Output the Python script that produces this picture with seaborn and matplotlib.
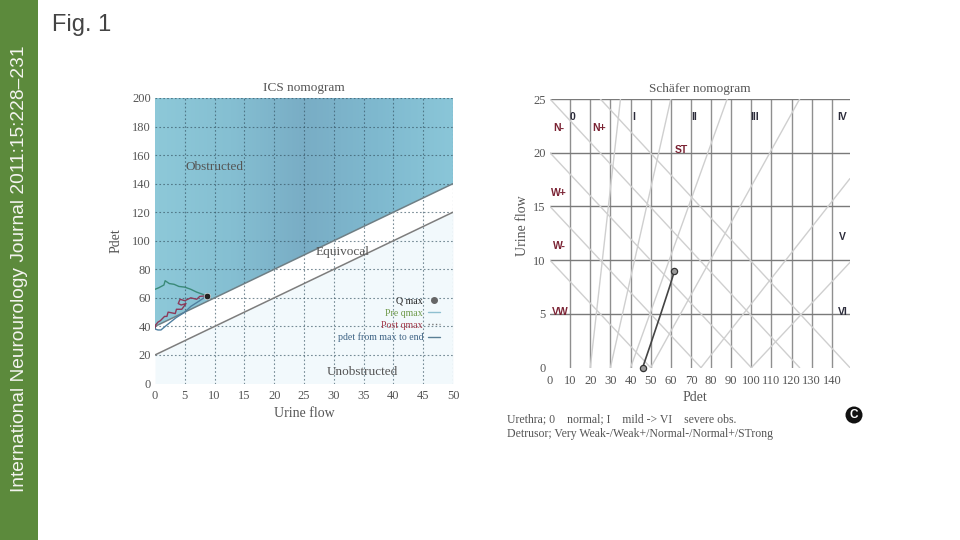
import matplotlib.pyplot as plt
import numpy as np
import seaborn as sns
from matplotlib.colors import LinearSegmentedColormap
from matplotlib.lines import Line2D
from matplotlib.patches import Circle, Polygon, Rectangle

# ICS nomogram
ics_flow_ticks = list(range(0, 55, 5))
ics_pdet_ticks = list(range(0, 220, 20))
boundary_flow = [0, 50]
upper_boundary = [40, 140]
lower_boundary = [20, 120]

pre_flow = [0, 0.6, 1.5, 1.7, 2.4, 3.2, 4.0, 5.0, 6.0, 7.0, 8.0, 8.7]
pre_pdet = [66, 67, 69, 72, 70, 69.5, 68, 67.5, 66, 64, 62.5, 61.5]
post_flow = [8.7, 7.5, 7.0, 6.0, 5.0, 4.2, 3.9, 4.4, 5.2, 4.5, 3.6, 3.4, 2.2, 2.0, 1.6, 0.9, 0.5, 0.1, 0.0]
post_pdet = [61.5, 61, 59, 60, 58, 59, 56, 55, 56, 52, 52, 49, 50, 47, 47, 44, 43, 41, 39]
end_flow = [8.7, 7.5, 6.0, 5.0, 3.5, 2.0, 1.0, 0.5, 0.1, 0.0]
end_pdet = [61.5, 58, 54, 50, 46, 41, 37.5, 37.5, 38, 40]
qmax_flow = [8.7]
qmax_pdet = [61.5]

# Schafer nomogram
sch_pdet_ticks = list(range(0, 150, 10))
sch_flow_ticks = [0, 5, 10, 15, 20, 25]
desc_lines = [([25, 149], [25, 0]), ([0, 124], [25, 0]), ([0, 100], [20, 0]),
              ([0, 75], [15, 0]), ([0, 50], [10, 0])]
asc_lines = [([20, 35], [0, 25]), ([30, 60], [0, 25]), ([40, 88], [0, 25]),
             ([50, 124], [0, 25]), ([75, 149], [0, 17.6]), ([100, 149], [0, 9.8])]
patient_pdet = [46, 50, 55, 59.7, 61.8]
patient_flow = [0, 2.2, 5, 7.7, 9]

urethra_labels = [("0", 11, 23.3), ("I", 41.6, 23.3), ("II", 71.5, 23.3), ("III", 101.5, 23.3),
                  ("IV", 145, 23.3), ("V", 145, 12.2), ("VI", 145.5, 5.2)]
detrusor_labels = [("N-", 4.5, 22.3), ("N+", 24.5, 22.3), ("ST", 65, 20.3), ("W+", 4.5, 16.3),
                   ("W-", 4.5, 11.3), ("VW", 5, 5.2)]

sns.set_style("white")
plt.rcParams['font.family'] = ['Liberation Serif', 'DejaVu Serif']
TEXT = '#555555'
W, H = 960, 540


def axes_px(fig, left, top, right, bottom):
    return fig.add_axes([left / W, 1 - bottom / H, (right - left) / W, (bottom - top) / H])


fig = plt.figure(figsize=(9.6, 5.4), dpi=100, facecolor='white')

# sidebar and figure caption
fig.add_artist(Rectangle((0, 0), 38 / W, 1, transform=fig.transFigure, color='#5c8a3c', lw=0))
fig.text(20 / W, 1 - 269 / H, 'International Neurourology Journal 2011:15:228\u2013231', rotation=90,
         color='#f4f4f0', ha='center', va='center', fontsize=13.8, family='Liberation Sans')
fig.text(52 / W, 1 - 25 / H, 'Fig. 1', color='#444444', fontsize=17, va='center',
         family='Liberation Sans', fontweight='light')

# left panel
ax = axes_px(fig, 155, 98, 453, 383.5)
ax.set_xlim(0, 50)
ax.set_ylim(0, 200)

blues = LinearSegmentedColormap.from_list('ics', ['#8dc8d8', '#85bfd2', '#79adc5', '#7fb9cf', '#8ac6d8'])
img = ax.imshow(np.linspace(0, 1, 50).reshape(1, -1), extent=(0, 50, 0, 200), aspect='auto', cmap=blues,
                interpolation='bilinear', zorder=0)
top_area = Polygon([(0, 40), (50, 140), (50, 200), (0, 200)], transform=ax.transData, fc='none', ec='none')
ax.add_patch(top_area)
img.set_clip_path(top_area)
ax.fill_between(boundary_flow, 0, lower_boundary, color='#f2f9fc', lw=0, zorder=0)

for xv in ics_flow_ticks[1:]:
    ax.axvline(xv, color='#33505f', lw=0.8, ls=(0, (1.5, 2)), alpha=0.65, zorder=1)
for yv in ics_pdet_ticks[1:]:
    ax.axhline(yv, color='#33505f', lw=0.8, ls=(0, (1.5, 2)), alpha=0.65, zorder=1)

sns.lineplot(x=boundary_flow, y=upper_boundary, color='#6f7f85', lw=1.1, ax=ax, zorder=2)
sns.lineplot(x=boundary_flow, y=lower_boundary, color='#7d7d7d', lw=1.1, ax=ax, zorder=2)
sns.lineplot(x=pre_flow, y=pre_pdet, sort=False, estimator=None, color='#3a8a78', lw=1, ax=ax, zorder=3)
sns.lineplot(x=end_flow, y=end_pdet, sort=False, estimator=None, color='#4f7f9f', lw=1, ax=ax, zorder=3)
sns.lineplot(x=post_flow, y=post_pdet, sort=False, estimator=None, color='#8c3a5a', lw=1, ax=ax, zorder=4)
sns.scatterplot(x=qmax_flow, y=qmax_pdet, color='#222222', s=22, ax=ax, zorder=5)

ax.set_xticks(ics_flow_ticks)
ax.set_yticks(ics_pdet_ticks)
ax.tick_params(length=0, labelsize=9, labelcolor=TEXT, pad=3)
ax.tick_params(axis='x', pad=5)
ax.set_title('ICS nomogram', fontsize=9.5, color=TEXT, pad=5)
ax.set_xlabel('Urine flow', fontsize=10, color=TEXT, labelpad=3)
ax.set_ylabel('Pdet', fontsize=10, color=TEXT, labelpad=7)
sns.despine(ax=ax, left=True, bottom=True)
ax.text(5.2, 152, 'Obstructed', fontsize=9.5, color=TEXT, va='center')
ax.text(26.9, 92, 'Equivocal', fontsize=9.5, color=TEXT, va='center')
ax.text(28.8, 8, 'Unobstructed', fontsize=9.5, color=TEXT, va='center')

handles = [Line2D([], [], marker='o', ls='none', color='#666666', markersize=4),
           Line2D([], [], color='#8fc0d0', lw=1),
           Line2D([], [], color='#777777', lw=1, ls=':'),
           Line2D([], [], color='#5a7f95', lw=1)]
ax.legend(handles, ['Q max', 'Pre qmax', 'Post qmax', 'pdet from max to end'], markerfirst=False,
          frameon=False, fontsize=7.1, labelcolor=['#222222', '#6f9a4a', '#a33a4a', '#3f6485'],
          handlelength=1.2, handletextpad=0.5, labelspacing=0.31, borderpad=0, borderaxespad=0,
          loc='center right', bbox_to_anchor=(0.956, 0.224))

# right panel
ax2 = axes_px(fig, 550, 99, 850, 367.7)
ax2.set_xlim(0, 149)
ax2.set_ylim(0, 25)

for xv in sch_pdet_ticks[1:]:
    ax2.axvline(xv, color='#8f8f8f', lw=1, zorder=1)
for yv in sch_flow_ticks[1:]:
    ax2.axhline(yv, color='#7a7a7a', lw=1, zorder=1)
for xs, ys in desc_lines:
    sns.lineplot(x=xs, y=ys, color='#cfcfcf', lw=1, ax=ax2, zorder=2)
for xs, ys in asc_lines:
    sns.lineplot(x=xs, y=ys, color='#cfcfcf', lw=1, ax=ax2, zorder=2)

sns.lineplot(x=patient_pdet, y=patient_flow, sort=False, estimator=None, color='#444444', lw=1.2, ax=ax2, zorder=3)
sns.scatterplot(x=[patient_pdet[0], patient_pdet[-1]], y=[patient_flow[0], patient_flow[-1]], s=20,
                color='#999999', edgecolor='#333333', linewidth=0.9, ax=ax2, zorder=4, clip_on=False)

for label, xv, yv in urethra_labels:
    ax2.text(xv, yv, label, ha='center', va='center', fontsize=7.5, fontweight='bold', color='#2b2b3a',
             family='Liberation Sans', zorder=5)
for label, xv, yv in detrusor_labels:
    ax2.text(xv, yv, label, ha='center', va='center', fontsize=7.5, fontweight='bold', color='#7a2233',
             family='Liberation Sans', zorder=5)

ax2.set_xticks(sch_pdet_ticks)
ax2.set_yticks(sch_flow_ticks)
ax2.tick_params(length=0, labelsize=9, labelcolor=TEXT, pad=3)
ax2.tick_params(axis='x', pad=5)
ax2.set_title('Schäfer nomogram', fontsize=9.5, color=TEXT, pad=5)
ax2.set_xlabel('Pdet', fontsize=10, color=TEXT, labelpad=3, x=0.483)
ax2.set_ylabel('Urine flow', fontsize=10, color=TEXT, labelpad=3, y=0.53)
sns.despine(ax=ax2, left=True, bottom=True)

# footnotes and badge
fig.text(507 / W, 1 - 419 / H, 'Urethra; 0    normal; I    mild -> VI    severe obs.', fontsize=8.5, color=TEXT, va='center')
fig.text(507 / W, 1 - 434 / H, 'Detrusor; Very Weak-/Weak+/Normal-/Normal+/STrong', fontsize=8.5, color=TEXT, va='center')
badge = Circle((854, H - 415), 8.5, transform=None, color='#111111', lw=0)
fig.add_artist(badge)
fig.text(854 / W, 1 - 415 / H, 'C', color='white', fontsize=8.5, fontweight='bold', ha='center', va='center',
         family='Liberation Sans')

fig.savefig('out.png', dpi=100)
